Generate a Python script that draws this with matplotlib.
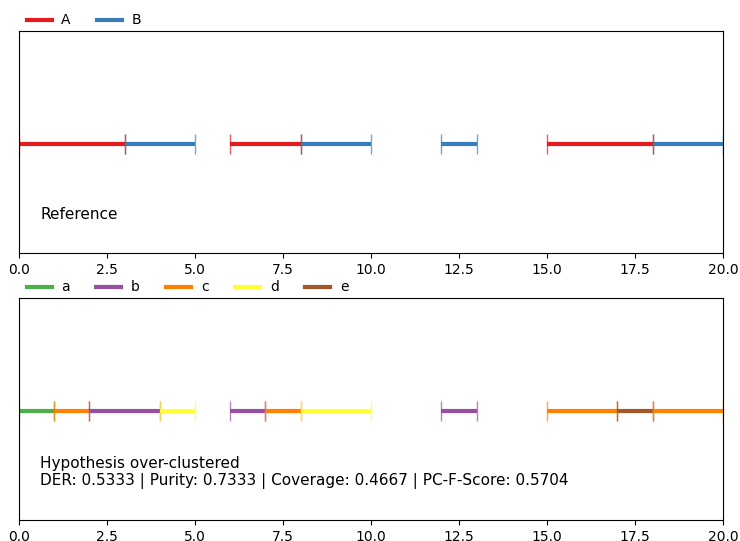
import matplotlib
matplotlib.use("Agg")
import matplotlib.pyplot as plt
from matplotlib.lines import Line2D

# reference segments (start, end, label)
ref_starts = [0, 3, 6, 8, 12, 15, 18]
ref_ends = [3, 5, 8, 10, 13, 18, 20]
ref_labels = ["A", "B", "A", "B", "B", "A", "B"]
ref_order = ["A", "B"]

# hypothesis segments
hyp_starts = [0, 1, 2, 4, 6, 7, 8, 12, 15, 17, 18]
hyp_ends = [1, 2, 4, 5, 7, 8, 10, 13, 17, 18, 20]
hyp_labels = ["a", "c", "b", "d", "b", "c", "d", "b", "c", "e", "c"]
hyp_order = ["a", "b", "c", "d", "e"]

colors = {"A": "#e41a1c", "B": "#377eb8",
          "a": "#4daf4a", "b": "#984ea3", "c": "#ff7f00",
          "d": "#ffff33", "e": "#a65628"}

ref_text = "Reference"
hyp_text = ("Hypothesis over-clustered\n"
            "DER: 0.5333 | Purity: 0.7333 | Coverage: 0.4667 | PC-F-Score: 0.5704")


def draw(ax, starts, ends, labels, order, text):
    y = 0.49
    for s, e, lab in zip(starts, ends, labels):
        c = colors[lab]
        ax.hlines(y, s, e, color=c, linewidth=3)
        ax.vlines([s, e], y - 0.045, y + 0.045, color=c, linewidth=1, alpha=0.7)
    ax.set_xlim(0, 20)
    ax.set_ylim(0, 1)
    ax.set_yticks([])
    ax.text(0.6, 0.14, text, fontsize=11, va="bottom", ha="left")
    handles = [Line2D([0], [0], color=colors[k], linewidth=3) for k in order]
    ax.legend(handles, order, loc="lower left", bbox_to_anchor=(0.003, 0.991),
              ncol=len(order), frameon=False, borderaxespad=0,
              handlelength=1.8, handletextpad=0.7, columnspacing=1.9)


fig = plt.figure(figsize=(7.4, 5.41), dpi=100)
ax1 = fig.add_axes([19 / 740, 1 - 253 / 541, 704 / 740, 222 / 541])
ax2 = fig.add_axes([19 / 740, 1 - 520 / 541, 704 / 740, 222 / 541])

draw(ax1, ref_starts, ref_ends, ref_labels, ref_order, ref_text)
draw(ax2, hyp_starts, hyp_ends, hyp_labels, hyp_order, hyp_text)

fig.savefig("out.png", dpi=100)
